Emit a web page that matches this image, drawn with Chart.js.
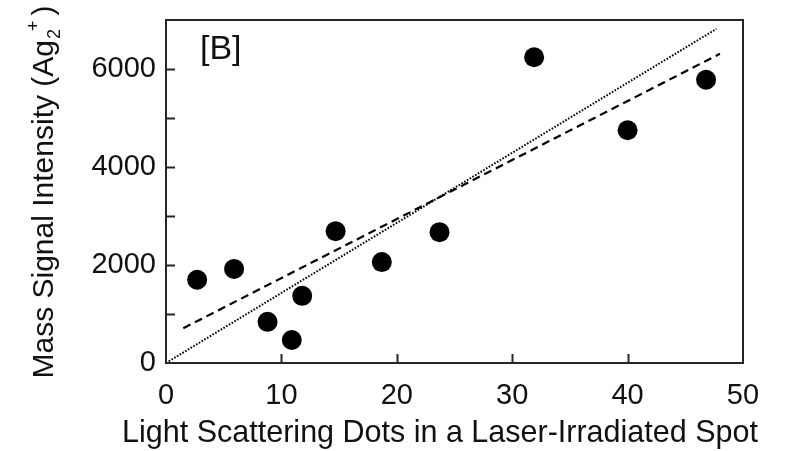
<!DOCTYPE html>
<html>
<head>
<meta charset="utf-8">
<script src="https://cdn.jsdelivr.net/npm/chart.js@4/dist/chart.umd.min.js"></script>
<style>
  html, body { margin: 0; padding: 0; background: #fff; }
  #wrap { position: relative; width: 789px; height: 451px; }
</style>
</head>
<body>
<div id="wrap"><canvas id="chart"></canvas></div>
<script>
// scatter points
const dotsX = [2.7, 5.9, 8.8, 10.9, 11.8, 14.7, 18.7, 23.7, 31.9, 40.0, 46.8];
const signalY = [1700, 1920, 840, 470, 1370, 2690, 2060, 2670, 6240, 4750, 5780];

// fitted lines, endpoints as drawn
const dashedX = [1.5, 48];
const dashedY = [710, 6310];
const dottedX = [0, 47.7];
const dottedY = [0, 6820];

const xTicks = [0, 10, 20, 30, 40, 50];
const yTicks = [0, 2000, 4000, 6000];

const FONT = '"Liberation Sans", Arial, Helvetica, sans-serif';
const INK = '#000';
const FRAME = '#262626';

const toPts = (xs, ys) => xs.map((x, i) => ({ x: x, y: ys[i] }));

const noPad = (s) => {
  s.paddingTop = 0;
  s.paddingBottom = 0;
  s.paddingLeft = 0;
  s.paddingRight = 0;
};

// frame, inward ticks and axis titles
const framePlugin = {
  id: 'frame',
  afterDraw(chart) {
    const { ctx, chartArea: a, scales } = chart;
    ctx.save();
    ctx.strokeStyle = FRAME;
    ctx.lineWidth = 2;
    ctx.strokeRect(a.left, a.top, a.right - a.left, a.bottom - a.top);

    ctx.beginPath();
    for (let v = 1000; v < 7000; v += 1000) {
      const y = Math.round(scales.y.getPixelForValue(v)) + 0.5;
      ctx.moveTo(a.left, y);
      ctx.lineTo(a.left + 9, y);
    }
    for (let v = 10; v < 50; v += 10) {
      const x = Math.round(scales.x.getPixelForValue(v)) + 0.5;
      ctx.moveTo(x, a.bottom);
      ctx.lineTo(x, a.bottom - 9);
    }
    ctx.stroke();

    ctx.fillStyle = '#111';
    ctx.font = '30.5px ' + FONT;
    ctx.textAlign = 'center';
    ctx.textBaseline = 'alphabetic';
    ctx.fillText('Light Scattering Dots in a Laser-Irradiated Spot', 440, 442);

    ctx.font = '34px ' + FONT;
    ctx.textAlign = 'left';
    ctx.fillText('[B]', 200, 59);

    // y title with sub/superscript
    ctx.translate(53, 192);
    ctx.rotate(-Math.PI / 2);
    ctx.font = '30px ' + FONT;
    const main = 'Mass Signal Intensity (Ag';
    const wMain = ctx.measureText(main).width;
    ctx.font = '18px ' + FONT;
    const wSub = ctx.measureText('2').width;
    const wSup = ctx.measureText('+').width;
    ctx.font = '30px ' + FONT;
    const wEnd = ctx.measureText(')').width;
    const total = wMain + wSub + wSup + 4 + wEnd;
    let x0 = -total / 2;
    ctx.fillText(main, x0, 0);
    x0 += wMain + 1;
    ctx.font = '18px ' + FONT;
    ctx.fillText('2', x0, 7);
    ctx.fillText('+', x0 + wSub - 2, -14);
    x0 += wSub + wSup + 3;
    ctx.font = '30px ' + FONT;
    ctx.fillText(')', x0, 0);
    ctx.restore();
  }
};

new Chart(document.getElementById('chart'), {
  type: 'scatter',
  data: {
    datasets: [
      {
        label: 'dots',
        data: toPts(dotsX, signalY),
        pointRadius: 10,
        pointHoverRadius: 10,
        backgroundColor: INK,
        borderColor: INK,
        borderWidth: 0
      },
      {
        type: 'line',
        label: 'dashed fit',
        data: toPts(dashedX, dashedY),
        borderColor: INK,
        borderWidth: 2.2,
        borderDash: [8, 5],
        pointRadius: 0,
        fill: false
      },
      {
        type: 'line',
        label: 'dotted fit',
        data: toPts(dottedX, dottedY),
        borderColor: INK,
        borderWidth: 2,
        borderDash: [1.6, 1.6],
        pointRadius: 0,
        fill: false
      }
    ]
  },
  options: {
    responsive: true,
    maintainAspectRatio: false,
    animation: false,
    layout: { padding: { top: 20, right: 46, left: 0, bottom: 0 } },
    scales: {
      x: {
        type: 'linear',
        min: 0,
        max: 50,
        afterFit: (s) => { s.height = 88; noPad(s); },
        afterBuildTicks: (s) => { s.ticks = xTicks.map(v => ({ value: v })); },
        grid: { display: false, drawTicks: false },
        border: { display: false },
        ticks: {
          color: '#111', padding: 16, maxRotation: 0,
          font: { family: FONT, size: 29 },
          callback: (v) => String(v)
        }
      },
      y: {
        type: 'linear',
        min: 0,
        max: 7000,
        afterFit: (s) => { s.width = 166; noPad(s); },
        afterBuildTicks: (s) => { s.ticks = yTicks.map(v => ({ value: v })); },
        grid: { display: false, drawTicks: false },
        border: { display: false },
        ticks: {
          color: '#111', padding: 10,
          font: { family: FONT, size: 29 },
          callback: (v) => String(v)
        }
      }
    },
    plugins: {
      legend: { display: false },
      tooltip: { enabled: false }
    }
  },
  plugins: [framePlugin]
});
</script>
</body>
</html>
